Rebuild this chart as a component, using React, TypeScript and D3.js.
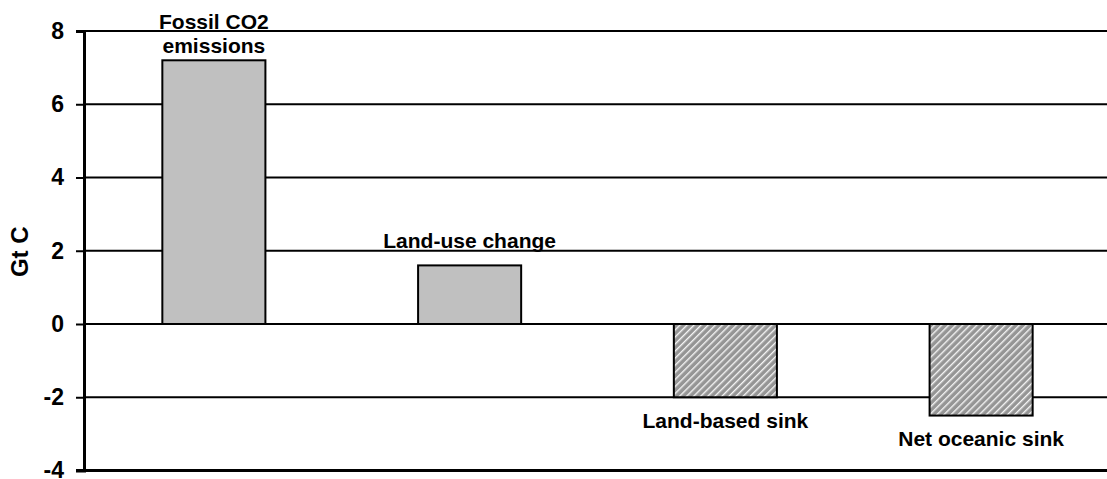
import React, {useEffect, useRef} from 'react';
import * as d3 from 'd3';

// values (Gt C)
const categories = ['Fossil CO2 emissions', 'Land-use change', 'Land-based sink', 'Net oceanic sink'];
const values = [7.2, 1.6, -2.0, -2.5];
const hatched = [false, false, true, true];
const labelLines = [['Fossil CO2', 'emissions'], ['Land-use change'], ['Land-based sink'], ['Net oceanic sink']];
const yTicks = [-4, -2, 0, 2, 4, 6, 8];

const W = 1107, H = 479;
const margin = {top: 31, right: 0, bottom: 8.5, left: 84};
// gap between bar end and its label baseline, per bar
const labelGap = [7, 17, 31, 30];
const FONT = '"Liberation Sans", Arial, Helvetica, sans-serif';

export default function App() {
    const svgRef = useRef<SVGSVGElement>(null);

    useEffect(() => {
        const svg = d3.select(svgRef.current);
        svg.selectAll('*').remove();

        const x = d3.scaleBand()
            .domain(categories)
            .range([margin.left + 2, W - margin.right + 2])
            .paddingInner(0.597)
            .paddingOuter(0.2985);
        const y = d3.scaleLinear()
            .domain([-4, 8])
            .range([H - margin.bottom, margin.top]);

        const defs = svg.append('defs');
        const pat = defs.append('pattern')
            .attr('id', 'hatch')
            .attr('patternUnits', 'userSpaceOnUse')
            .attr('width', 5)
            .attr('height', 5)
            .attr('patternTransform', 'rotate(45)');
        pat.append('rect').attr('width', 5).attr('height', 5).attr('fill', '#959595');
        pat.append('line')
            .attr('x1', 0).attr('y1', 0).attr('x2', 0).attr('y2', 5)
            .attr('stroke', '#f4f4f4').attr('stroke-width', 2.8);

        // gridlines
        svg.append('g')
            .selectAll('line')
            .data(yTicks.filter(t => t !== -4))
            .join('line')
            .attr('x1', margin.left)
            .attr('x2', W)
            .attr('y1', d => y(d))
            .attr('y2', d => y(d))
            .attr('stroke', '#000')
            .attr('stroke-width', 2);

        // bars
        svg.append('g')
            .selectAll('rect')
            .data(values)
            .join('rect')
            .attr('x', (d, i) => x(categories[i])!)
            .attr('width', x.bandwidth())
            .attr('y', d => y(Math.max(0, d)))
            .attr('height', d => Math.abs(y(d) - y(0)))
            .attr('fill', (d, i) => hatched[i] ? 'url(#hatch)' : '#c0c0c0')
            .attr('stroke', '#000')
            .attr('stroke-width', 2);

        // bar labels
        const lab = svg.append('g')
            .attr('font-family', FONT)
            .attr('font-weight', 'bold')
            .attr('font-size', 21)
            .attr('text-anchor', 'middle')
            .attr('fill', '#000');
        values.forEach((v, i) => {
            const cx = x(categories[i])! + x.bandwidth() / 2;
            const lines = labelLines[i];
            lines.forEach((ln, j) => {
                const by = v >= 0
                    ? y(v) - labelGap[i] - (lines.length - 1 - j) * 24
                    : y(v) + labelGap[i] + j * 24;
                lab.append('text').attr('x', cx).attr('y', by).text(ln);
            });
        });

        // y axis
        const yAxis = d3.axisLeft(y)
            .tickValues(yTicks)
            .tickSize(8)
            .tickPadding(12)
            .tickFormat(d => String(d));
        const ga = svg.append('g')
            .attr('transform', `translate(${margin.left},0)`)
            .call(yAxis);
        ga.select('.domain').attr('stroke-width', 3).attr('stroke', '#000');
        ga.selectAll('.tick line').attr('stroke-width', 2).attr('stroke', '#000');
        ga.selectAll('.tick text')
            .attr('font-family', FONT)
            .attr('font-weight', 'bold')
            .attr('font-size', 23)
            .attr('fill', '#000');

        // x axis (bottom line)
        svg.append('line')
            .attr('x1', margin.left - 8)
            .attr('x2', W)
            .attr('y1', y(-4))
            .attr('y2', y(-4))
            .attr('stroke', '#000')
            .attr('stroke-width', 3);

        svg.append('text')
            .attr('transform', `translate(28,${(y(8) + y(-4)) / 2 + 1}) rotate(-90)`)
            .attr('text-anchor', 'middle')
            .attr('font-family', FONT)
            .attr('font-weight', 'bold')
            .attr('font-size', 24)
            .text('Gt C');
    }, []);

    return (
        <svg ref={svgRef} width={W} height={H}
             style={{position: 'absolute', left: 0, top: 0, background: '#fff'}} />
    );
}
